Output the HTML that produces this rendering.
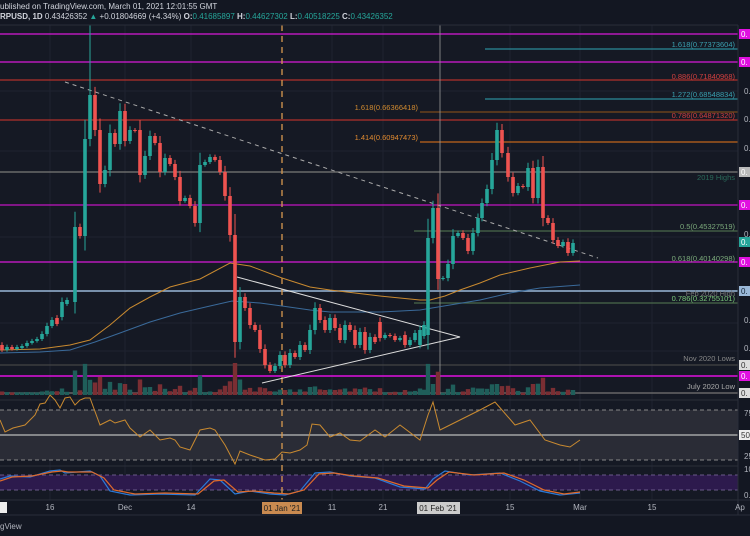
<!DOCTYPE html>
<html><head><meta charset="utf-8"><style>
html,body{margin:0;padding:0;background:#131722;width:750px;height:536px;overflow:hidden}
svg{display:block;font-family:"Liberation Sans",sans-serif}
</style></head><body>
<svg id="s" width="750" height="536" xmlns="http://www.w3.org/2000/svg">
<rect width="750" height="536" fill="#131722"/>
<rect x="0" y="25" width="738" height="475" fill="#151924"/>
<g id="grid" stroke="#1f2330" stroke-width="1"></g>
<rect x="0" y="410" width="738" height="50" fill="#2a2c36"/>
<line x1="0" y1="410" x2="738" y2="410" stroke="#888" stroke-dasharray="4,3"/>
<line x1="0" y1="460" x2="738" y2="460" stroke="#888" stroke-dasharray="4,3"/>
<line x1="0" y1="435" x2="738" y2="435" stroke="#bbb" stroke-width="1.2"/>
<line x1="0" y1="466" x2="738" y2="466" stroke="#2a2e39"/>
<rect x="0" y="475" width="738" height="15" fill="#2d1a4d"/>
<line x1="0" y1="475" x2="738" y2="475" stroke="#6b5a8a" stroke-dasharray="4,3"/>
<line x1="0" y1="490" x2="738" y2="490" stroke="#6b5a8a" stroke-dasharray="4,3"/>
<line x1="0" y1="400" x2="738" y2="400" stroke="#2a2e39"/>
<g stroke-width="1.2">
<line x1="0" y1="34" x2="738" y2="34" stroke="#d81ad8"/>
<line x1="485" y1="49" x2="738" y2="49" stroke="#2a8a99"/>
<line x1="0" y1="62" x2="738" y2="62" stroke="#d81ad8"/>
<line x1="0" y1="80" x2="738" y2="80" stroke="#b0302a"/>
<line x1="485" y1="99" x2="738" y2="99" stroke="#2a8a99"/>
<line x1="420" y1="112" x2="738" y2="112" stroke="#7a4a1a"/>
<line x1="0" y1="120" x2="738" y2="120" stroke="#b0302a"/>
<line x1="420" y1="142" x2="738" y2="142" stroke="#c0661a"/>
<line x1="0" y1="172" x2="738" y2="172" stroke="#6a6a6a" stroke-width="1.5"/>
<line x1="0" y1="205" x2="738" y2="205" stroke="#c015c0"/>
<line x1="414" y1="231" x2="738" y2="231" stroke="#4a6a4a"/>
<line x1="0" y1="262" x2="738" y2="262" stroke="#d81ad8"/>
<line x1="0" y1="291" x2="738" y2="291" stroke="#9ab8d8" stroke-width="1.5"/>
<line x1="414" y1="303" x2="738" y2="303" stroke="#4a6a4a"/>
<line x1="0" y1="365" x2="738" y2="365" stroke="#444"/>
<line x1="0" y1="376" x2="738" y2="376" stroke="#e010e0" stroke-width="1.5"/>
<line x1="0" y1="393" x2="738" y2="393" stroke="#666" stroke-width="1.5"/>
</g>
<line x1="90" y1="25" x2="90" y2="100" stroke="#2aa89a"/>
<line x1="440" y1="25" x2="440" y2="395" stroke="#999" stroke-width="0.8"/>
<line x1="282" y1="25" x2="282" y2="500" stroke="#d89a50" stroke-width="1.3" stroke-dasharray="6,5"/>
<line x1="65" y1="82" x2="598" y2="258" stroke="#aaa" stroke-dasharray="4,4"/>
<g id="vol"></g>
<polyline fill="none" stroke="#c98a30" stroke-width="1" points="0,350 40,349 70,345 90,340 110,325 130,308 150,297 170,287 200,279 230,263 250,266 282,278 310,287 330,290 380,296 420,300 430,300 445,296 460,290 480,283 500,275 530,268 560,262 580,261"/>
<polyline fill="none" stroke="#3a6a9a" stroke-width="1" points="0,353 40,352 70,350 95,342 120,333 150,322 180,313 210,306 232,301 260,303 282,306 310,310 330,312 380,312 420,310 450,305 480,300 510,293 540,288 580,285"/>
<polyline fill="none" stroke="#ddd" stroke-width="1" points="237,277 460,337 262,383"/>
<g id="candles"></g>
<polyline fill="none" stroke="#c98a30" stroke-width="1" points="0,420 5,432 13,428 25,425 30,420 35,415 40,404 45,403 50,395 55,400 60,408 65,398 70,397 75,405 80,400 85,398 90,398 100,425 110,420 115,423 125,420 130,428 140,437 150,430 160,440 170,438 175,440 180,447 190,450 200,430 210,428 215,430 225,445 235,464 240,451 250,455 265,460 275,459 282,452 290,453 300,450 307,445 312,424 320,425 330,437 340,433 350,440 360,441 375,430 385,437 400,425 420,440 428,415 433,402 440,430 450,425 460,420 480,410 495,402 502,410 515,425 530,420 545,440 560,445 570,447 580,440"/>
<polyline fill="none" stroke="#2a7ad8" stroke-width="1.2" points="0,479 10,476 30,477 50,471 60,470 65,473 90,471 100,476 110,491 130,495 160,494 195,495 210,479 220,480 235,494 250,491 270,494 285,495 300,491 315,473 330,472 350,476 375,478 400,487 425,489 433,479 445,471 470,475 500,473 520,481 540,491 560,495 580,493"/>
<polyline fill="none" stroke="#e06a2a" stroke-width="1.2" points="0,481 12,477 32,476 52,472 62,471 68,472 92,472 104,478 114,490 135,494 165,493 198,494 214,481 224,480 238,492 254,491 274,493 289,494 304,490 319,474 334,473 354,476 378,478 404,486 428,488 437,480 449,472 474,475 504,473 524,480 544,490 564,494 580,492"/>
<g font-size="7.5" text-anchor="end">
<text x="735" y="47" fill="#3aa0b0">1.618(0.77373604)</text>
<text x="735" y="79" fill="#d04040">0.886(0.71840968)</text>
<text x="735" y="97" fill="#3aa0b0">1.272(0.68548834)</text>
<text x="735" y="118" fill="#d04040">0.786(0.64871320)</text>
<text x="418" y="110" fill="#d08a30">1.618(0.66366418)</text>
<text x="418" y="140" fill="#e08a30">1.414(0.60947473)</text>
<text x="735" y="180" fill="#2a6a5a">2019 Highs</text>
<text x="735" y="229" fill="#7aa87a">0.5(0.45327519)</text>
<text x="735" y="261" fill="#7aa87a">0.618(0.40140298)</text>
<text x="735" y="296" fill="#777">Feb 2020 High</text>
<text x="735" y="301" fill="#7ac87a">0.786(0.32755101)</text>
<text x="735" y="361" fill="#888">Nov 2020 Lows</text>
<text x="735" y="389" fill="#aaa">July 2020 Low</text>
</g>
<line x1="738" y1="25" x2="738" y2="515" stroke="#2a2e39"/>
<g font-size="8" fill="#fff">
<rect x="739" y="29" width="11" height="10" fill="#e010e0"/><text x="741" y="37">0.</text>
<rect x="739" y="57" width="11" height="10" fill="#e010e0"/><text x="741" y="65">0.</text>
<rect x="739" y="167" width="11" height="10" fill="#bbb"/><text x="741" y="175">0.</text>
<rect x="739" y="200" width="11" height="10" fill="#e010e0"/><text x="741" y="208">0.</text>
<rect x="739" y="237" width="11" height="10" fill="#26a69a"/><text x="741" y="245">0.</text>
<rect x="739" y="257" width="11" height="10" fill="#e010e0"/><text x="741" y="265">0.</text>
<rect x="739" y="286" width="11" height="10" fill="#9ab8d8"/><text x="741" y="294" fill="#123">0.</text>
<rect x="739" y="360" width="11" height="10" fill="#ddd"/><text x="741" y="368" fill="#333">0.</text>
<rect x="739" y="371" width="11" height="10" fill="#e010e0"/><text x="741" y="379">0.</text>
<rect x="739" y="388" width="11" height="10" fill="#ddd"/><text x="741" y="396" fill="#333">0.</text>
<rect x="739" y="430" width="11" height="10" fill="#eee"/><text x="741" y="438" fill="#333">50</text>
</g>
<g font-size="8" fill="#b2b5be">
<text x="744" y="94">0.</text><text x="744" y="122">0.</text><text x="744" y="151">0.</text>
<text x="744" y="237">0.</text><text x="744" y="323">0.</text><text x="744" y="351">0.</text>
<text x="744" y="416">75</text><text x="744" y="459">25</text><text x="744" y="472">10</text><text x="744" y="498">0.</text>
</g>
<line x1="0" y1="500" x2="750" y2="500" stroke="#2a2e39"/>
<g font-size="8" fill="#b2b5be" text-anchor="middle">
<text x="50" y="510">16</text><text x="125" y="510">Dec</text><text x="191" y="510">14</text>
<text x="332" y="510">11</text><text x="383" y="510">21</text><text x="510" y="510">15</text>
<text x="580" y="510">Mar</text><text x="652" y="510">15</text><text x="740" y="510">Ap</text>
</g>
<rect x="0" y="502" width="7" height="11" fill="#eee"/>
<rect x="262" y="502" width="40" height="12" fill="#c98a50"/>
<text x="282" y="511" font-size="8" fill="#222" text-anchor="middle">01 Jan '21</text>
<rect x="417" y="502" width="43" height="12" fill="#ccc"/>
<text x="438" y="511" font-size="8" fill="#222" text-anchor="middle">01 Feb '21</text>
<line x1="0" y1="515" x2="750" y2="515" stroke="#2a2e39"/>
<text x="0" y="529" font-size="8" fill="#b2b5be">gView</text>
<rect x="0" y="0" width="750" height="25" fill="#131722"/>
<text x="0" y="9" font-size="8" fill="#d1d4dc">ublished on TradingView.com, March 01, 2021 12:01:55 GMT</text>
<text x="0" y="19" font-size="8" fill="#d1d4dc"><tspan font-weight="bold">RPUSD, 1D</tspan> 0.43426352 <tspan fill="#26a69a">▲</tspan> +0.01804669 (+4.34%) <tspan font-weight="bold">O:</tspan><tspan fill="#26a69a">0.41685897</tspan> <tspan font-weight="bold">H:</tspan><tspan fill="#26a69a">0.44627302</tspan> <tspan font-weight="bold">L:</tspan><tspan fill="#26a69a">0.40518225</tspan> <tspan font-weight="bold">C:</tspan><tspan fill="#26a69a">0.43426352</tspan></text>
<line x1="0" y1="25" x2="738" y2="25" stroke="#2a2e39"/>
</svg>
<script>
var NS="http://www.w3.org/2000/svg";
function el(p,t,a){var e=document.createElementNS(NS,t);for(var k in a)e.setAttribute(k,a[k]);p.appendChild(e);return e;}
var g=document.getElementById("grid");
[50,125,191,332,383,510,580,652].forEach(function(x){el(g,"line",{x1:x,y1:25,x2:x,y2:500});});
[91,151,237,323,351].forEach(function(y){el(g,"line",{x1:0,y1:y,x2:738,y2:y});});
var c=[[2,345,350],[7,350,347],[12,347,349],[17,349,347],[22,348,346],[27,346,343],[32,343,341],[37,341,339],[42,339,334],[47,334,326],[52,326,320],[57,318,324],[62,317,302],[67,304,300],[75,302,227],[80,227,236],[85,236,139],[90,139,95],[95,95,130],[100,130,184],[105,184,170],[110,170,133],[115,133,144],[120,144,111],[125,111,141],[130,141,130],[135,130,131],[140,130,175],[145,175,156],[150,156,136],[155,136,143],[160,143,172],[165,172,158],[170,158,164],[175,164,177],[180,177,201],[185,201,198],[190,198,206],[195,206,223],[200,223,165],[205,165,162],[210,162,157],[215,157,160],[220,160,172],[225,172,196],[230,196,235],[235,235,342],[240,342,297],[245,297,308],[250,308,325],[255,325,330],[260,330,349],[265,349,365],[270,365,371],[275,371,366],[280,366,355],[285,355,365],[290,365,353],[295,353,357],[300,357,345],[305,345,350],[310,350,330],[315,330,308],[320,308,320],[325,320,330],[330,330,318],[335,318,328],[340,328,340],[345,340,325],[350,325,330],[355,330,345],[360,345,332],[365,332,350],[370,350,337],[375,337,342],[380,322,338],[385,338,335],[390,335,336],[395,336,340],[400,340,338],[405,335,345],[410,345,340],[415,340,333],[420,345,330],[424,336,325],[428,335,238],[433,238,208],[438,208,279],[443,279,278],[448,278,264],[453,264,236],[458,236,233],[463,233,238],[468,238,251],[473,251,233],[478,233,218],[482,218,203],[487,203,189],[492,189,160],[497,160,130],[502,130,153],[508,153,177],[513,177,193],[518,193,186],[523,186,187],[528,187,168],[533,168,198],[538,198,167],[543,167,218],[548,218,223],[553,223,240],[558,240,246],[563,246,242],[568,242,253],[573,253,243]];
var cg=document.getElementById("candles"),vg=document.getElementById("vol");
c.forEach(function(d,i){var up=d[2]<d[1],col=up?"#26a69a":"#ef5350";var t=Math.min(d[1],d[2]),b=Math.max(d[1],d[2]);var r=(b-t)*0.3+3+((i*7)%7);
el(cg,"line",{x1:d[0],y1:t-r*0.6,x2:d[0],y2:b+r*0.45,stroke:col,"stroke-width":1});
el(cg,"rect",{x:d[0]-1.8,y:t,width:3.6,height:Math.max(1,b-t),fill:col});
var h=Math.min(32,2+(b-t)*0.3+((i*5)%5));
el(vg,"rect",{x:d[0]-2.2,y:395-h,width:4.4,height:h,fill:up?"#1f5e5a":"#7a2e33"});});
</script>
</body></html>
